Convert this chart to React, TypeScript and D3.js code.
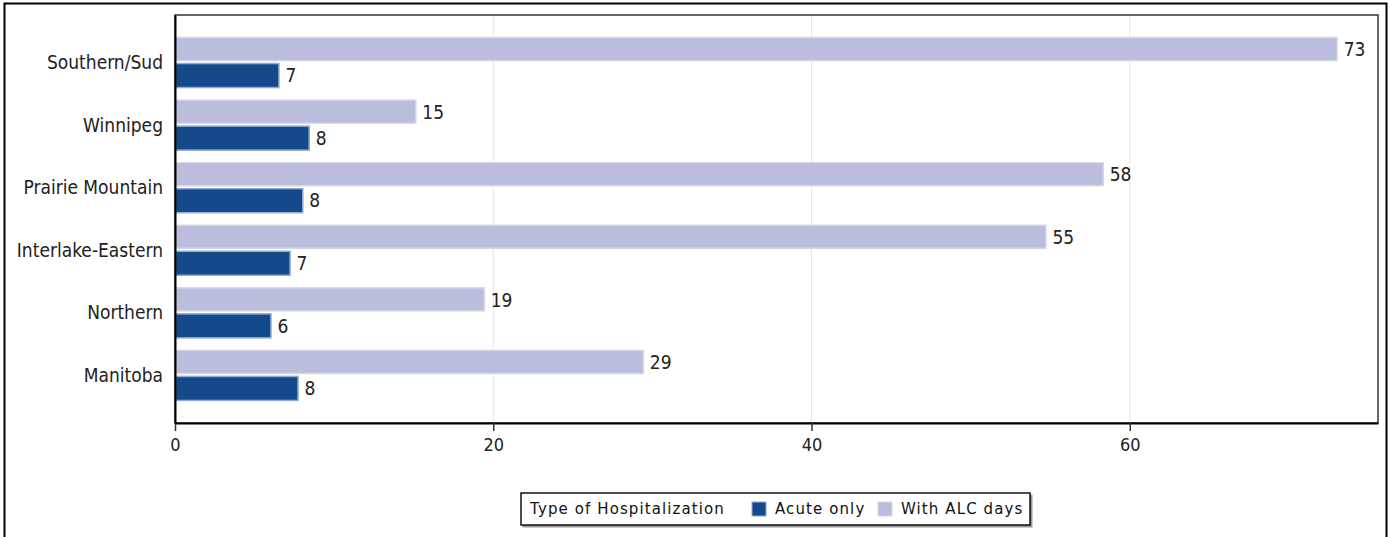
import React, { useEffect, useRef } from 'react';
import * as d3 from 'd3';

const regions = ['Southern/Sud', 'Winnipeg', 'Prairie Mountain', 'Interlake-Eastern', 'Northern', 'Manitoba'];
const withAlcDays = [73.0, 15.1, 58.3, 54.7, 19.4, 29.4];
const acuteOnly = [6.5, 8.4, 8.0, 7.2, 6.0, 7.7];
const xTicks = [0, 20, 40, 60];
const legendTitle = 'Type of Hospitalization';
const seriesNames = ['Acute only', 'With ALC days'];

const W = 1390;
const H = 537;
const ACUTE = '#144a8c';
const ALC = '#bbbddc';
const COND = '"DejaVu Sans Condensed", "DejaVu Sans", sans-serif';

export default function App() {
  const ref = useRef<SVGSVGElement>(null);

  useEffect(() => {
    if (!ref.current) return;
    const svg = d3.select(ref.current);
    svg.selectAll('*').remove();

    const margin = { top: 15, right: 12, bottom: 114, left: 175 };
    const innerW = W - margin.left - margin.right;
    const innerH = H - margin.top - margin.bottom;

    // outer frame
    svg.append('rect')
      .attr('x', 4.5).attr('y', 3.5).attr('width', W - 8).attr('height', H)
      .attr('fill', 'white').attr('stroke', '#000').attr('stroke-width', 2);

    const g = svg.append('g').attr('transform', `translate(${margin.left},${margin.top})`);

    const x = d3.scaleLinear().domain([0, 75.6]).range([0, innerW]);
    const y = d3.scalePoint<string>().domain(regions).range([0, innerH]).padding(0.76);

    // grid
    g.selectAll('line.grid')
      .data(xTicks.filter(t => t > 0))
      .join('line')
      .attr('class', 'grid')
      .attr('x1', d => x(d)).attr('x2', d => x(d))
      .attr('y1', 0).attr('y2', innerH)
      .attr('stroke', '#e6e6e6').attr('stroke-width', 1);

    // ALC bars
    g.selectAll('rect.alc')
      .data(regions)
      .join('rect')
      .attr('class', 'alc')
      .attr('x', x(0) + 0.5)
      .attr('y', d => (y(d) as number) - 25)
      .attr('width', (d, i) => x(withAlcDays[i]) - x(0))
      .attr('height', 23)
      .attr('fill', ALC)
      .attr('stroke', '#d4d5e6').attr('stroke-width', 1.5);

    // Acute bars
    g.selectAll('rect.acute')
      .data(regions)
      .join('rect')
      .attr('class', 'acute')
      .attr('x', x(0) + 0.5)
      .attr('y', d => (y(d) as number) + 1)
      .attr('width', (d, i) => x(acuteOnly[i]) - x(0))
      .attr('height', 24)
      .attr('fill', ACUTE)
      .attr('stroke', '#92a9d2').attr('stroke-width', 1.5);

    // value labels
    g.selectAll('text.alc-label')
      .data(regions)
      .join('text')
      .attr('class', 'alc-label')
      .attr('x', (d, i) => x(withAlcDays[i]) + 7)
      .attr('y', d => (y(d) as number) - 13)
      .attr('dy', '0.35em')
      .attr('font-family', COND).attr('font-size', 19).attr('fill', '#222')
      .text((d, i) => Math.round(withAlcDays[i]));

    g.selectAll('text.acute-label')
      .data(regions)
      .join('text')
      .attr('class', 'acute-label')
      .attr('x', (d, i) => x(acuteOnly[i]) + 7)
      .attr('y', d => (y(d) as number) + 13)
      .attr('dy', '0.35em')
      .attr('font-family', COND).attr('font-size', 19).attr('fill', '#222')
      .text((d, i) => Math.round(acuteOnly[i]));

    // plot frame (top/right)
    g.append('rect')
      .attr('x', 0).attr('y', 0).attr('width', innerW).attr('height', innerH)
      .attr('fill', 'none').attr('stroke', '#333').attr('stroke-width', 1.5);

    // x axis
    const xAxis = g.append('g')
      .attr('transform', `translate(0,${innerH})`)
      .call(d3.axisBottom(x).tickValues(xTicks).tickSizeInner(8).tickSizeOuter(0).tickPadding(7));
    xAxis.select('.domain').attr('stroke', '#000').attr('stroke-width', 2);
    xAxis.selectAll('.tick line').attr('stroke', '#333').attr('stroke-width', 1.5);
    xAxis.selectAll('.tick text')
      .attr('font-family', COND).attr('font-size', 18).attr('fill', '#222');

    // y axis
    const yAxis = g.append('g')
      .call(d3.axisLeft(y).tickSize(0).tickPadding(12));
    yAxis.select('.domain').attr('stroke', '#000').attr('stroke-width', 2);
    yAxis.selectAll('.tick text')
      .attr('font-family', COND).attr('font-size', 19).attr('fill', '#222');

    // legend
    const lg = svg.append('g').attr('transform', 'translate(521,493)');
    lg.append('rect')
      .attr('x', 1.5).attr('y', 1.5).attr('width', 510).attr('height', 33)
      .attr('fill', '#999');
    lg.append('rect')
      .attr('x', 0).attr('y', 0).attr('width', 509).attr('height', 32)
      .attr('fill', 'white').attr('stroke', '#111').attr('stroke-width', 1.5);
    lg.append('text')
      .attr('x', 9).attr('y', 16).attr('dy', '0.35em')
      .attr('font-family', '"DejaVu Sans", sans-serif').attr('font-size', 15)
      .attr('letter-spacing', 1.1).attr('fill', '#111')
      .text(legendTitle);
    const items = [
      { name: seriesNames[0], color: ACUTE, stroke: '#92a9d2', x: 231 },
      { name: seriesNames[1], color: ALC, stroke: '#d4d5e6', x: 357 },
    ];
    items.forEach(it => {
      lg.append('rect')
        .attr('x', it.x).attr('y', 9).attr('width', 14).attr('height', 14)
        .attr('fill', it.color).attr('stroke', it.stroke).attr('stroke-width', 1);
      lg.append('text')
        .attr('x', it.x + 23).attr('y', 16).attr('dy', '0.35em')
        .attr('font-family', '"DejaVu Sans", sans-serif').attr('font-size', 15)
        .attr('letter-spacing', 1.1).attr('fill', '#111')
        .text(it.name);
    });
  }, []);

  return (
    <svg ref={ref} width={W} height={H} style={{ position: 'absolute', left: 0, top: 0, background: 'white' }} />
  );
}
